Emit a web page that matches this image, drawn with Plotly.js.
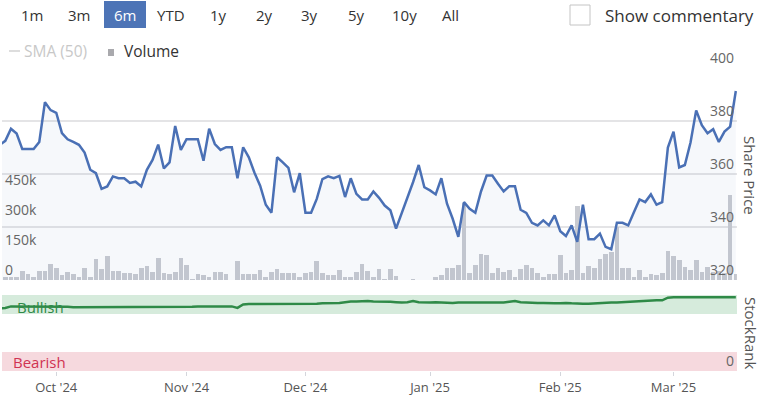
<!DOCTYPE html>
<html><head><meta charset="utf-8">
<script src="https://cdn.plot.ly/plotly-3.0.1.min.js"></script>
<style>html,body{margin:0;padding:0;background:#fff}#chart{width:765px;height:395px}</style>
</head><body><div id="chart"></div>
<script>
// ---- data ----
const dates = [
'2024-09-17','2024-09-18','2024-09-19','2024-09-20','2024-09-23','2024-09-24','2024-09-25','2024-09-26','2024-09-27','2024-09-30',
'2024-10-01','2024-10-02','2024-10-03','2024-10-04','2024-10-07','2024-10-08','2024-10-09','2024-10-10','2024-10-11','2024-10-14','2024-10-15','2024-10-16','2024-10-17','2024-10-18','2024-10-21','2024-10-22','2024-10-23','2024-10-24','2024-10-25','2024-10-28','2024-10-29','2024-10-30','2024-10-31',
'2024-11-01','2024-11-04','2024-11-05','2024-11-06','2024-11-07','2024-11-08','2024-11-11','2024-11-12','2024-11-13','2024-11-14','2024-11-15','2024-11-18','2024-11-19','2024-11-20','2024-11-21','2024-11-22','2024-11-25','2024-11-26','2024-11-27','2024-11-28','2024-11-29',
'2024-12-02','2024-12-03','2024-12-04','2024-12-05','2024-12-06','2024-12-09','2024-12-10','2024-12-11','2024-12-12','2024-12-13','2024-12-16','2024-12-17','2024-12-18','2024-12-19','2024-12-20','2024-12-23','2024-12-24','2024-12-25','2024-12-26','2024-12-27','2024-12-30','2024-12-31',
'2025-01-01','2025-01-02','2025-01-03','2025-01-06','2025-01-07','2025-01-08','2025-01-09','2025-01-10','2025-01-13','2025-01-14','2025-01-15','2025-01-16','2025-01-17','2025-01-20','2025-01-21','2025-01-22','2025-01-23','2025-01-24','2025-01-27','2025-01-28','2025-01-29','2025-01-30','2025-01-31',
'2025-02-03','2025-02-04','2025-02-05','2025-02-06','2025-02-07','2025-02-10','2025-02-11','2025-02-12','2025-02-13','2025-02-14','2025-02-17','2025-02-18','2025-02-19','2025-02-20','2025-02-21','2025-02-24','2025-02-25','2025-02-26','2025-02-27','2025-02-28',
'2025-03-03','2025-03-04','2025-03-05','2025-03-06','2025-03-07','2025-03-10','2025-03-11','2025-03-12','2025-03-13','2025-03-14','2025-03-17','2025-03-18'
];
const sharePrice = [
371.0,372.5,377.1,375.3,369.4,369.4,369.4,372.1,387.1,384.1,
383.1,375.4,373.1,372.1,371.0,368.1,361.6,360.3,354.4,355.3,359.1,358.4,358.4,356.6,357.1,355.3,361.6,365.3,371.1,362.1,364.4,378.1,369.1,
373.1,373.1,373.1,365.0,377.1,371.3,369.1,370.1,370.1,358.4,370.1,366.3,360.5,355.6,348.4,345.4,366.3,364.4,362.3,353.1,360.3,
345.4,345.4,350.6,358.1,359.1,358.4,359.3,351.3,358.4,352.5,350.4,350.4,353.4,351.0,348.1,346.3,339.4,345.0,351.3,356.9,363.4,355.0,
353.8,352.3,358.4,348.8,343.1,336.3,349.4,346.9,345.4,353.4,359.4,359.4,356.3,353.4,355.4,355.4,346.5,345.3,341.6,340.6,342.5,340.6,344.4,
338.4,336.6,340.6,334.4,348.4,335.4,335.4,337.5,332.5,331.6,341.6,341.6,340.6,345.6,350.4,349.4,352.3,348.4,349.4,370.0,
376.0,362.5,363.4,371.9,384.0,378.4,375.4,376.9,372.1,376.0,377.9,391.3
];
const volumeK = [
17,17,13,13,43,30,17,43,43,80,
62,25,42,28,13,62,17,103,55,120,43,43,37,33,30,62,70,42,112,37,30,42,112,
75,3,30,25,17,42,42,30,2,95,30,30,30,50,17,42,53,37,37,37,17,
37,42,95,37,25,25,50,17,17,42,80,47,17,55,5,55,20,0,0,5,0,0,
0,17,25,62,62,75,383,37,75,130,125,37,62,42,50,17,55,75,62,37,17,30,30,
125,37,50,370,37,70,62,105,130,142,267,62,62,17,50,17,28,25,37,145,
120,100,67,50,100,42,67,42,45,35,425,28
];
const stockRank = [
82,83,85,85,85,85,85,85,85,85,
85,85,84.5,84,84,84,84,84.5,84,84,84,84,84,84.5,84,84,84,84,84,84,84,84,84.5,
84.5,84.5,85,85,85,85,85,85,85,83,87.5,88,88,88,88,88,88,88,88,88,88,
88,88.5,88.5,89,89,89,89.5,90.5,91.5,91.5,92,92,91.5,91.5,91,91,90.5,90,90.5,92,90.5,90,
90,90.5,90,90,89.5,90,90,90,90,90,89.5,90,90,90,91,92,90.5,90,90,89.5,89.5,89,89,
89,89.5,89,88.5,88.5,88.5,89,89.5,89.5,90,90,90.5,91,91.5,91.5,92,92.5,93,93,96.5,
97,97,97,97.2,97.3,97.5,97.5,97.3,97.2,97,97,97
];
const monthTicks = ['2024-10-01','2024-11-01','2024-12-02','2025-01-01','2025-02-03','2025-03-03'];
const monthLabels = ["Oct '24","Nov '24","Dec '24","Jan '25","Feb '25","Mar '25"];
const priceTicks = [320,340,360,380,400];
const volumeTicks = [0,150000,300000,450000];
const volumeTickLabels = ['0','150k','300k','450k'];
const rankTicks = [0];
const rangeButtons = ['1m','3m','6m','YTD','1y','2y','3y','5y','10y','All'];
const selectedButton = '6m';

// ---- layout helpers ----
const W = 765, H = 395, ML = 2, MR = 28, MT = 68, MB = 24;
const px = x => (x - ML) / (W - ML - MR);
const py = y => (H - MB - y) / (H - MT - MB);
const noon = d => d + ' 12:00';
const xs = dates.map(noon);
const volume = volumeK.map(v => v * 1000);

const FONT = '"Open Sans", "DejaVu Sans", sans-serif';
const traces = [
  { type: 'bar', x: xs, y: volume, xaxis: 'x', yaxis: 'y',
    marker: { color: '#c9cbd1', line: { width: 0 } }, width: 0.82 * 86400000,
    hoverinfo: 'skip', showlegend: false },
  { type: 'scatter', mode: 'lines', x: xs, y: sharePrice, xaxis: 'x', yaxis: 'y2',
    line: { color: '#4a70b5', width: 2.5 }, fill: 'tozeroy', fillcolor: 'rgba(74,112,181,0.05)',
    hoverinfo: 'skip', showlegend: false },
  { type: 'scatter', mode: 'lines', x: xs, y: stockRank, xaxis: 'x', yaxis: 'y3',
    line: { color: '#2f8a47', width: 2.5 }, hoverinfo: 'skip', showlegend: false }
];

const btnX = [32, 79, 125, 171, 218, 264, 309, 356, 404, 450];
const annotations = [];
const shapes = [];
rangeButtons.forEach((b, i) => {
  const sel = b === selectedButton;
  if (sel) shapes.push({ type: 'rect', xref: 'paper', yref: 'paper', x0: px(btnX[i] - 21), x1: px(btnX[i] + 21),
    y0: py(28), y1: py(1), fillcolor: '#4d74b6', line: { width: 0 } });
  annotations.push({ xref: 'paper', yref: 'paper', x: px(btnX[i]), y: py(15), xanchor: 'center', yanchor: 'middle',
    text: b, showarrow: false, font: { family: FONT, size: 15, color: sel ? '#ffffff' : '#333333' } });
});
// checkbox + label
shapes.push({ type: 'rect', xref: 'paper', yref: 'paper', x0: px(570), x1: px(590), y0: py(25), y1: py(5),
  fillcolor: '#ffffff', line: { color: '#c4c4c4', width: 1 } });
annotations.push({ xref: 'paper', yref: 'paper', x: px(603), y: py(15), xanchor: 'left', yanchor: 'middle',
  text: 'Show commentary', showarrow: false, font: { family: FONT, size: 17, color: '#333333' } });
// legend
shapes.push({ type: 'line', xref: 'paper', yref: 'paper', x0: px(9), x1: px(20), y0: py(51), y1: py(51),
  line: { color: '#dddddd', width: 2 } });
annotations.push({ xref: 'paper', yref: 'paper', x: px(22), y: py(51), xanchor: 'left', yanchor: 'middle',
  text: 'SMA (50)', showarrow: false, font: { family: FONT, size: 15.5, color: '#c8c8c8' } });
shapes.push({ type: 'rect', xref: 'paper', yref: 'paper', x0: px(108), x1: px(114), y0: py(56), y1: py(49),
  fillcolor: '#a9a9ad', line: { width: 0 } });
annotations.push({ xref: 'paper', yref: 'paper', x: px(122), y: py(51), xanchor: 'left', yanchor: 'middle',
  text: 'Volume', showarrow: false, font: { family: FONT, size: 15.5, color: '#333333' } });
// rank bands
shapes.push({ type: 'rect', xref: 'paper', yref: 'y3', x0: 0, x1: 1, y0: 75, y1: 100,
  fillcolor: '#d6ebdc', line: { width: 0 }, layer: 'below' });
shapes.push({ type: 'rect', xref: 'paper', yref: 'y3', x0: 0, x1: 1, y0: 0, y1: 25,
  fillcolor: '#f6d9de', line: { width: 0 }, layer: 'below' });
annotations.push({ xref: 'paper', yref: 'paper', x: px(15), y: py(307), xanchor: 'left', yanchor: 'middle',
  text: 'Bullish', showarrow: false, font: { family: FONT, size: 15, color: '#2f8a47' } });
annotations.push({ xref: 'paper', yref: 'paper', x: px(11), y: py(362), xanchor: 'left', yanchor: 'middle',
  text: 'Bearish', showarrow: false, font: { family: FONT, size: 15, color: '#d03352' } });
// axis titles
annotations.push({ xref: 'paper', yref: 'paper', x: px(750), y: py(175), xanchor: 'center', yanchor: 'middle',
  text: 'Share Price', textangle: 90, showarrow: false, font: { family: FONT, size: 15, color: '#555555' } });
annotations.push({ xref: 'paper', yref: 'paper', x: px(751), y: py(333), xanchor: 'center', yanchor: 'middle',
  text: 'StockRank', textangle: 90, showarrow: false, font: { family: FONT, size: 15, color: '#555555' } });

const tickFont = { family: FONT, size: 14, color: '#666666' };
const layout = {
  width: W, height: H, margin: { l: ML, r: MR, t: MT, b: MB, pad: 0 },
  paper_bgcolor: '#ffffff', plot_bgcolor: 'rgba(0,0,0,0)', showlegend: false,
  font: { family: FONT }, bargap: 0,
  xaxis: { type: 'date', anchor: 'y3', rangebreaks: [{ bounds: ['sat', 'mon'] }],
    range: ['2024-09-17 22:00', '2025-03-18 17:00'],
    tickmode: 'array', tickvals: monthTicks.map(noon), ticktext: monthLabels,
    ticks: 'outside', ticklen: 4, tickcolor: '#d4d6dc', tickwidth: 1,
    tickfont: { family: FONT, size: 13, color: '#555555' },
    showgrid: false, showline: false, zeroline: false, automargin: false, fixedrange: true },
  yaxis: { domain: [91 / 303, 1], side: 'left', range: [0, 1058500],
    tickmode: 'array', tickvals: volumeTicks, ticktext: volumeTickLabels,
    ticklabelposition: 'inside top', ticklabeloverflow: 'allow', ticks: '',
    tickfont: tickFont, showgrid: false, zeroline: false, showline: false, automargin: false, fixedrange: true },
  yaxis2: { overlaying: 'y', side: 'right', range: [320, 400],
    tickmode: 'array', tickvals: priceTicks, ticklabelposition: 'inside top', ticklabeloverflow: 'allow', ticks: '',
    tickfont: tickFont, showgrid: true, gridcolor: '#e4e4e6', gridwidth: 1.5,
    zeroline: false, showline: false, automargin: false, fixedrange: true },
  yaxis3: { domain: [0, 76 / 303], side: 'right', range: [0, 100], anchor: 'x',
    tickmode: 'array', tickvals: rankTicks, ticklabelposition: 'inside top', ticklabeloverflow: 'allow', ticks: '',
    tickfont: tickFont, showgrid: false, zeroline: false, showline: false, automargin: false, fixedrange: true },
  shapes: shapes, annotations: annotations
};
Plotly.newPlot('chart', traces, layout, { displayModeBar: false, staticPlot: true });
</script>
</body></html>
